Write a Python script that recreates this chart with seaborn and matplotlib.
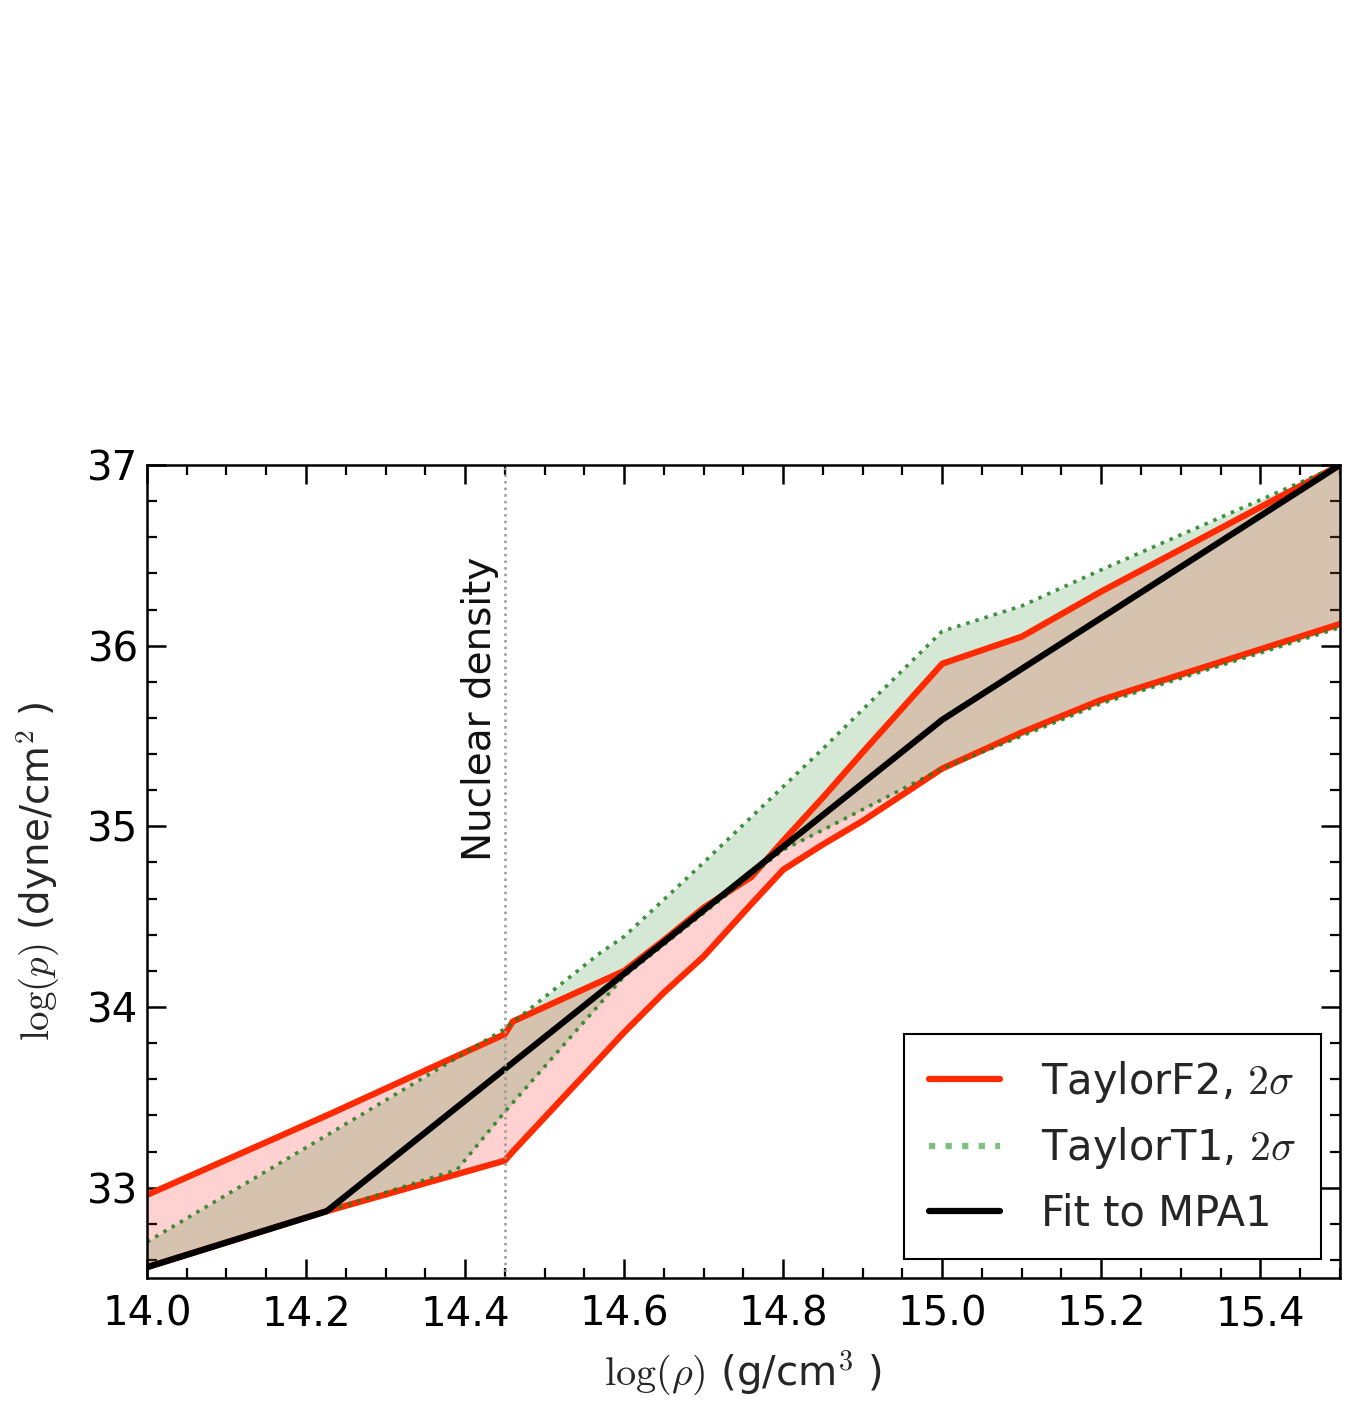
import numpy as np
import matplotlib
matplotlib.use("Agg")
import matplotlib.pyplot as plt
from matplotlib.lines import Line2D
from matplotlib.ticker import MultipleLocator
import seaborn as sns

# ---- data ----
f2_x = [14.0, 14.226, 14.45, 14.46, 14.6, 14.65, 14.7, 14.76, 14.8, 14.85, 14.9, 15.0, 15.1, 15.2, 15.5]
f2_hi = [32.96, 33.40, 33.85, 33.92, 34.20, 34.37, 34.55, 34.72, 34.92, 35.16, 35.41, 35.90, 36.05, 36.30, 37.00]
f2_lo = [32.56, 32.87, 33.15, 33.20, 33.86, 34.08, 34.28, 34.57, 34.76, 34.90, 35.03, 35.32, 35.52, 35.70, 36.12]

t1_x = [14.0, 14.226, 14.39, 14.45, 14.57, 14.6, 14.7, 14.8, 14.85, 15.0, 15.1, 15.2, 15.5]
t1_hi = [32.70, 33.29, 33.72, 33.88, 34.30, 34.39, 34.80, 35.22, 35.43, 36.08, 36.22, 36.42, 37.00]
t1_lo = [32.56, 32.87, 33.10, 33.42, 34.02, 34.17, 34.52, 34.87, 34.98, 35.32, 35.50, 35.68, 36.10]

mpa1_x = [14.0, 14.226, 15.0, 15.5]
mpa1_y = [32.56, 32.87, 35.59, 37.00]

nuclear_density = 14.45
labels = ["TaylorF2, $2\\sigma$", "TaylorT1, $2\\sigma$", "Fit to MPA1"]

# ---- style ----
sns.set_style("ticks")
plt.rcParams['font.family'] = ['DejaVu Sans']
plt.rcParams['mathtext.fontset'] = 'cm'

RED = '#ff2a00'
GREEN = '#1f7f1f'

fig = plt.figure(figsize=(13.52, 14.04), dpi=100)
ax = fig.add_axes([0.1087, 0.0897, 0.8823, 0.5791])

ax.fill_between(f2_x, f2_lo, f2_hi, color='#ff0000', alpha=0.18, lw=0)
ax.fill_between(t1_x, t1_lo, t1_hi, color='#2e8b2e', alpha=0.2, lw=0)

sns.lineplot(x=f2_x, y=f2_hi, ax=ax, color=RED, lw=4.5, sort=False)
sns.lineplot(x=f2_x, y=f2_lo, ax=ax, color=RED, lw=4.5, sort=False)
sns.lineplot(x=t1_x, y=t1_hi, ax=ax, color=GREEN, lw=2.6, linestyle=':', alpha=0.85, sort=False)
sns.lineplot(x=t1_x, y=t1_lo, ax=ax, color=GREEN, lw=2.6, linestyle=':', alpha=0.85, sort=False)
sns.lineplot(x=mpa1_x, y=mpa1_y, ax=ax, color='black', lw=4.5, sort=False)

ax.axvline(nuclear_density, color='#999999', lw=1.8, linestyle=':')
ax.text(nuclear_density - 0.031, 34.81, 'Nuclear density', rotation=90,
        ha='center', va='bottom', fontsize=28, color='#111111')

ax.set_xlim(14.0, 15.5)
ax.set_ylim(32.5, 37.0)
ax.xaxis.set_major_locator(MultipleLocator(0.2))
ax.xaxis.set_minor_locator(MultipleLocator(0.05))
ax.yaxis.set_major_locator(MultipleLocator(1))
ax.yaxis.set_minor_locator(MultipleLocator(0.2))
ax.set_xticks(np.arange(14.0, 15.41, 0.2))
ax.set_xticklabels([f"{v:.1f}" for v in np.arange(14.0, 15.41, 0.2)])
ax.set_yticks([33, 34, 35, 36, 37])
ax.set_yticklabels(['33', '34', '35', '36', '37'])

ax.tick_params(which='both', direction='in', top=True, right=True, colors='black')
ax.tick_params(which='major', length=14, width=1.8, labelsize=29)
ax.tick_params(axis='x', which='major', pad=12)
ax.tick_params(axis='y', which='major', pad=6)
ax.tick_params(which='minor', length=7, width=1.6)
for s in ax.spines.values():
    s.set_color('black')
    s.set_linewidth(1.8)

ax.set_xlabel(r'$\log(\rho)$ (g/cm$^3$ )', fontsize=29, labelpad=10)
ax.set_ylabel(r'$\log(p)$ (dyne/cm$^2$ )', fontsize=28, labelpad=18)

handles = [
    Line2D([], [], color=RED, lw=4.5),
    Line2D([], [], color='#7fbf7f', lw=4.5, linestyle=':'),
    Line2D([], [], color='black', lw=4.5),
]
leg = ax.legend(handles, labels, loc='lower right', fontsize=30, frameon=True,
                fancybox=False, handlelength=1.7, handletextpad=1.0, framealpha=1,
                borderpad=0.6, borderaxespad=0.45)
leg.get_frame().set_edgecolor('black')
leg.get_frame().set_linewidth(1.5)

fig.savefig('out.png', dpi=100)
